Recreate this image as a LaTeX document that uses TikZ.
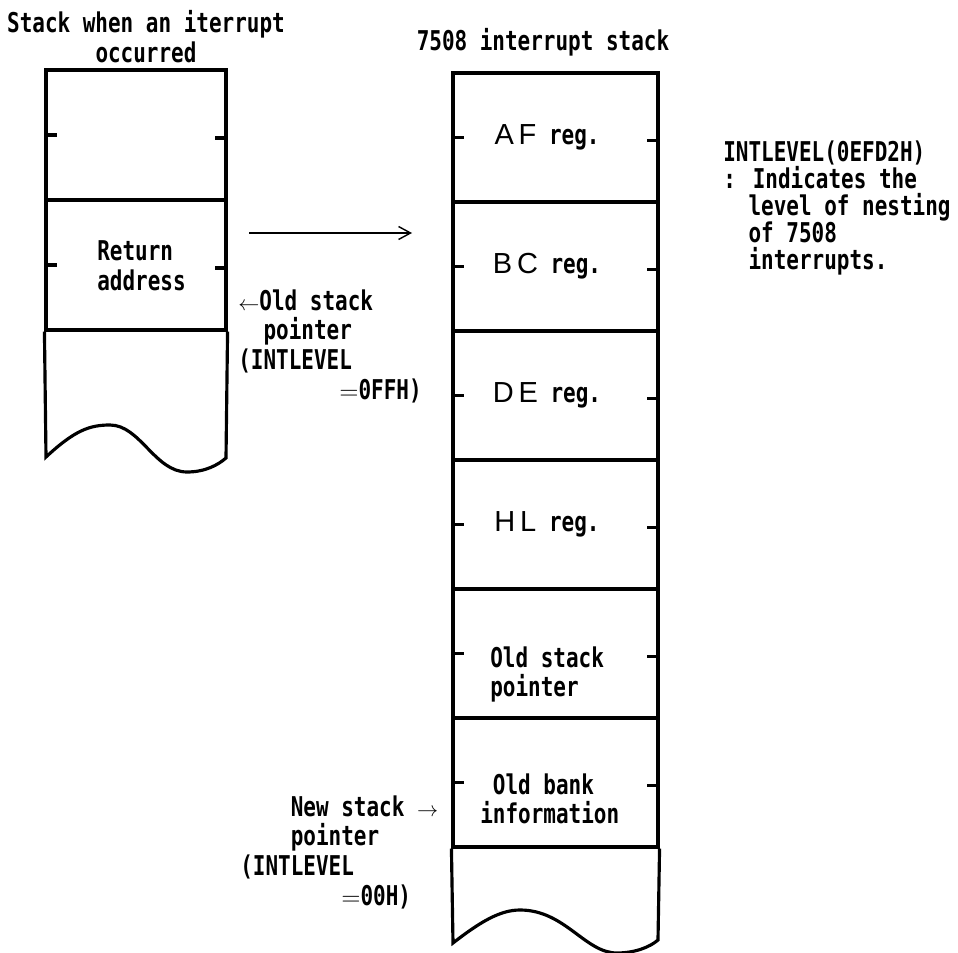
\documentclass[tikz,border=0pt]{standalone}
\usepackage{fontspec}
\usepackage{tikz}
\usetikzlibrary{arrows.meta}
\newfontfamily\stkfont{DejaVu Sans Mono}[FakeStretch=0.77]
\newfontfamily\widefont{Liberation Sans}
\tikzset{
  txt/.style={font=\fontsize{15.5}{17}\selectfont\stkfont\bfseries, inner sep=0pt, align=left},
  cell/.style={draw, line width=1.8pt, inner sep=0pt, minimum height=2.58cm, minimum width=4.1cm},
  tick/.style={line width=1.8pt}
}
\newcommand{\regname}[1]{{\widefont\mdseries\fontsize{16.5}{17}\selectfont #1}}
\newcommand{\ptrarrow}[1]{{\fontsize{12}{12}\selectfont$#1$}}

\begin{document}
\begin{tikzpicture}[x=0.02cm, y=-0.02cm]
        \useasboundingbox (0,0) rectangle (958,953);
        % titles
        \node[txt, align=center] (lttl) at (146,37) {Stack when an iterrupt\\occurred};
        \node[txt] (rttl) at (543,42) {7508 interrupt stack};

        % stack when an interrupt occurred
        \node[cell, minimum width=3.6cm, minimum height=2.6cm] (emp) at (136,135) {};
        \node[cell, minimum width=3.6cm, minimum height=2.6cm] (ret) at (136,265) {};
        \foreach \name in {emp,ret}{
          \draw[tick] (\name.west) -- ++(13,0);
          \draw[tick] ([yshift=-3*0.02cm]\name.east) -- ++(-13,0);
        }
        \coordinate (lbl) at (46,457);
        \coordinate (lbr) at (226,458);
        \path[draw, line width=1.8pt] (ret.south west) -- (lbl)
          .. controls (75,430) and (90,425) .. (110,425)
          .. controls (140,425) and (155,472) .. (187,472)
          .. controls (205,472) and (218,465) .. (lbr) -- (ret.south east);
        \node[txt, anchor=north west] (rettxt) at (97,240) {Return\\address};
        \node[txt, anchor=north west] (oldsp) at (238,289) {\ptrarrow{\leftarrow}Old stack\\\ \ pointer\\(INTLEVEL\\\ \ \ \ \ \ \ \ $=$0FFH)};

        % arrow to the 7508 stack
        \coordinate (mvfrom) at (249,233);
        \coordinate (mvto) at (412,233);
        \path[draw, line width=0.8pt, -{Straight Barb[length=2.4mm, width=2.6mm]}] (mvfrom) -- (mvto);

        % 7508 interrupt stack
        \foreach \name/\i/\txt in {af/0/{\regname{A\,F}\ reg.}, bc/1/{\regname{B\,C}\ reg.}, de/2/{\regname{D\,E}\ reg.}, hl/3/{\regname{H\,L}\ reg.}, osp/4/{}, obk/5/{}}{
          \node[cell] (\name) at (555.5,137.5+129*\i) {};
          \node[txt] (\name-t) at ([xshift=-0.17cm]\name) {\txt};
          \draw[tick] (\name.west) -- ++(13,0);
          \draw[tick] ([yshift=-3*0.02cm]\name.east) -- ++(-13,0);
        }
        \node[txt, anchor=north west] (osptxt) at (490,646) {Old stack\\pointer};
        \node[txt, anchor=north west] (obktxt) at (480,773) {\ Old bank\\information};
        \coordinate (rbl) at (453,943);
        \coordinate (rbr) at (658,940);
        \path[draw, line width=1.8pt] (obk.south west) -- (rbl)
          .. controls (480,922) and (500,910) .. (520,910)
          .. controls (565,910) and (585,953) .. (617,953)
          .. controls (635,953) and (650,947) .. (rbr) -- (obk.south east);
        \node[txt, anchor=north west] (newsp) at (240,795) {\ \ \ \ New stack \ptrarrow{\rightarrow}\\\ \ \ \ pointer\\(INTLEVEL\\\ \ \ \ \ \ \ \ $=$00H)};

        % note
        \node[txt, anchor=north west, font=\fontsize{15.5}{15.5}\selectfont\stkfont\bfseries] (note) at (723,140)
          {INTLEVEL(0EFD2H)\\: Indicates the\\\ \ level of nesting\\\ \ of 7508\\\ \ interrupts.};
\end{tikzpicture}
\end{document}
